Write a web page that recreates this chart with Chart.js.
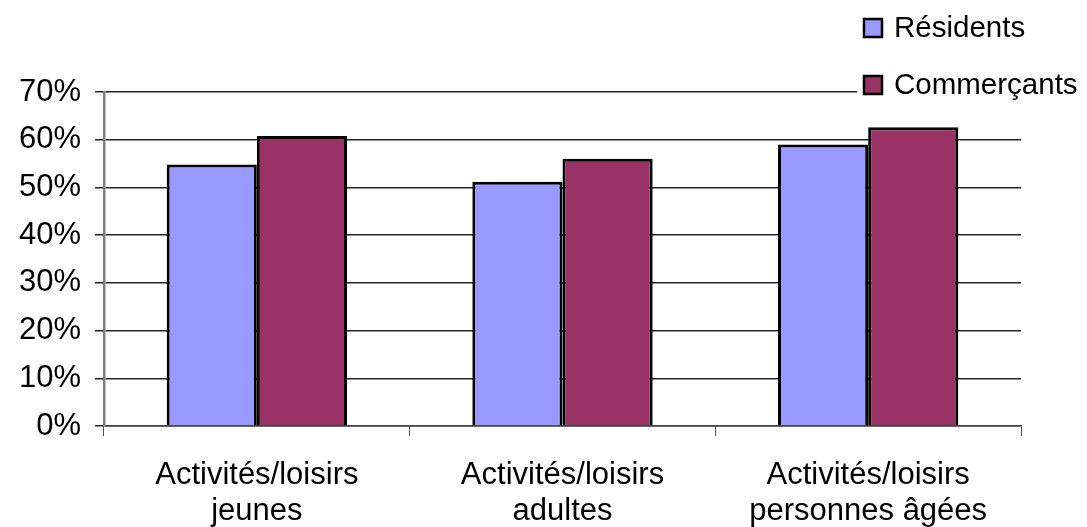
<!DOCTYPE html>
<html>
<head>
<meta charset="utf-8">
<script src="https://cdn.jsdelivr.net/npm/chart.js@4.4.0/dist/chart.umd.min.js"></script>
<style>
  html, body { margin: 0; padding: 0; background: #fff; }
  #wrap { width: 1087px; height: 527px; }
</style>
</head>
<body>
<div id="wrap"><canvas id="activityChart" width="1087" height="527"></canvas></div>
<script>
    const categories = [['Activités/loisirs', 'jeunes'], ['Activités/loisirs', 'adultes'], ['Activités/loisirs', 'personnes âgées']];
    const residents = [54.8, 51.2, 59.0];
    const commercants = [60.8, 56.0, 62.6];
    const seriesNames = ['Résidents', 'Commerçants'];
    const seriesColors = ['#9999FF', '#993366'];

    // legend drawn by hand, two rows in the top-right corner
    const cornerLegend = {
        id: 'cornerLegend',
        afterDraw(chart) {
            const ctx = chart.ctx;
            ctx.save();
            ctx.font = '29.5px "Liberation Sans", Arial, sans-serif';
            ctx.textBaseline = 'middle';
            ctx.textAlign = 'left';
            chart.data.datasets.forEach(function (ds, i) {
                const y = 28 + i * 57;
                const textW = ctx.measureText(ds.label).width;
                ctx.fillStyle = '#fff';
                ctx.fillRect(857, y - 15, textW + 44, 30);
                ctx.fillStyle = ds.backgroundColor;
                ctx.fillRect(864, y - 9, 18, 18);
                ctx.lineWidth = 2.5;
                ctx.strokeStyle = '#000';
                ctx.strokeRect(864, y - 9, 18, 18);
                ctx.fillStyle = '#000';
                ctx.fillText(ds.label, 894, y + 1);
            });
            ctx.restore();
        }
    };

    const ctx = document.getElementById('activityChart').getContext('2d');
    new Chart(ctx, {
        type: 'bar',
        data: {
            labels: categories,
            datasets: [{
                label: seriesNames[0],
                data: residents,
                backgroundColor: seriesColors[0],
                borderColor: '#000',
                borderWidth: 3,
                categoryPercentage: 0.59,
                barPercentage: 1
            }, {
                label: seriesNames[1],
                data: commercants,
                backgroundColor: seriesColors[1],
                borderColor: '#000',
                borderWidth: 3,
                categoryPercentage: 0.59,
                barPercentage: 1
            }]
        },
        options: {
            responsive: false,
            animation: false,
            layout: { padding: { left: 0, right: 66, top: 92, bottom: 0 } },
            plugins: {
                legend: { display: false },
                tooltip: { enabled: false }
            },
            scales: {
                x: {
                    afterFit: function (scale) { scale.height = 101; },
                    grid: {
                        offset: true,
                        drawOnChartArea: false,
                        drawTicks: true,
                        tickLength: 10,
                        color: '#555',
                        lineWidth: 1
                    },
                    border: { color: '#444', width: 1.5 },
                    ticks: {
                        color: '#000',
                        padding: 21,
                        maxRotation: 0,
                        autoSkip: false,
                        font: { family: '"Liberation Sans", Arial, sans-serif', size: 31, lineHeight: 1.18 }
                    }
                },
                y: {
                    min: 0,
                    max: 70,
                    afterFit: function (scale) { scale.width = 104; },
                    grid: {
                        color: '#222',
                        lineWidth: 1.5,
                        tickLength: 9
                    },
                    border: { color: '#808080', width: 2.5 },
                    ticks: {
                        stepSize: 10,
                        color: '#000',
                        padding: 14,
                        font: { family: '"Liberation Sans", Arial, sans-serif', size: 31 },
                        callback: function (v) { return v + '%'; }
                    }
                }
            }
        },
        plugins: [cornerLegend]
    });
</script>
</body>
</html>
